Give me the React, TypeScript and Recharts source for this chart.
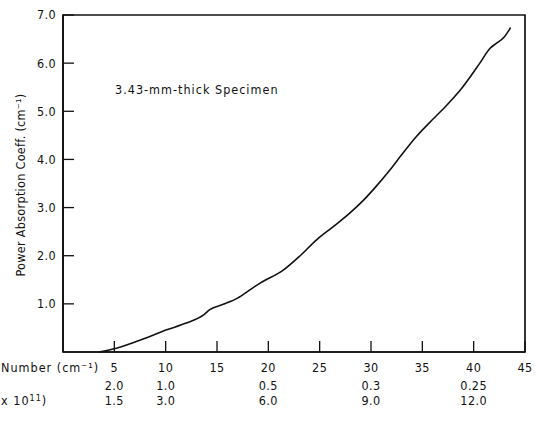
import { Label, Line, LineChart, ReferenceArea, XAxis, YAxis } from 'recharts'

// wave number (cm^-1) vs power absorption coefficient (cm^-1)
const WAVE_NUMBER = [3.5, 5.2, 7.8, 10.1, 12, 13.7, 14.3, 15.6, 17, 18.2, 19.2, 21.45, 23, 24.7, 26.3, 27.9, 29.3, 30.5, 31.8, 33, 34.4, 36.1, 37.4, 38.7, 40.6, 41.6, 42.2, 43.0, 43.6]
const ABSORPTION = [0, 0.08, 0.27, 0.46, 0.6, 0.77, 0.88, 0.99, 1.12, 1.29, 1.43, 1.7, 1.98, 2.33, 2.6, 2.88, 3.16, 3.44, 3.77, 4.1, 4.47, 4.85, 5.13, 5.44, 6.0, 6.31, 6.41, 6.55, 6.74]

const X_TICKS = [5, 10, 15, 20, 25, 30, 35, 40, 45]
const Y_TICKS = [1, 2, 3, 4, 5, 6, 7]

// secondary scales printed under some wave number ticks
const SUB_TICKS = [5, 10, 20, 30, 40]
const WAVELENGTH_LABELS = ['2.0', '1.0', '0.5', '0.3', '0.25']
const FREQUENCY_LABELS = ['1.5', '3.0', '6.0', '9.0', '12.0']

const data = WAVE_NUMBER.map((x, i) => ({ x, y: ABSORPTION[i] }))

const FONT = "'DejaVu Sans Condensed', 'DejaVu Sans', sans-serif"
const INK = '#111'
const SPACING = 1

function XTick(props: { x?: number; y?: number; payload?: { value: number } }) {
  const { x = 0, y = 0, payload } = props
  if (!payload) return null
  const i = SUB_TICKS.indexOf(payload.value)
  return (
    <g fontFamily={FONT} fontSize={12.5} fill={INK} letterSpacing={0.4}>
      <text x={x} y={y + 20} textAnchor="middle">{payload.value}</text>
      {i >= 0 ? (
        <>
          <text x={x} y={y + 38} textAnchor="middle">{WAVELENGTH_LABELS[i]}</text>
          <text x={x} y={y + 53} textAnchor="middle">{FREQUENCY_LABELS[i]}</text>
        </>
      ) : null}
    </g>
  )
}

// left part of the axis titles is cut off in the original scan
function XTitle(props: { viewBox?: { x: number; y: number } }) {
  const y = props.viewBox?.y ?? 352
  return (
    <g fontFamily={FONT} fontSize={12.5} fill={INK} letterSpacing={SPACING}>
      <text x={1} y={y + 20}>Number (cm⁻¹)</text>
      <text x={1} y={y + 53}>
        x 10<tspan dy={-4} fontSize={9}>11</tspan><tspan dy={4}>)</tspan>
      </text>
    </g>
  )
}

function YTitle() {
  return (
    <text
      x={25}
      y={185}
      transform="rotate(-90 25 185)"
      textAnchor="middle"
      fontFamily={FONT}
      fontSize={12.5}
      letterSpacing={0.3}
      fill={INK}
    >
      Power Absorption Coeff. (cm⁻¹)
    </text>
  )
}

function Note(props: { viewBox?: { x: number; y: number } }) {
  const x = props.viewBox?.x ?? 63
  const y = props.viewBox?.y ?? 15
  return (
    <text x={x + 52} y={y + 79} fontFamily={FONT} fontSize={12.5} letterSpacing={SPACING} fill={INK}>
      3.43-mm-thick Specimen
    </text>
  )
}

export default function App() {
  return (
    <div style={{ position: 'absolute', left: 0, top: 0, width: 545, height: 421 }}>
      <LineChart
        width={545}
        height={421}
        data={data}
        margin={{ top: 15, right: 20, bottom: 0, left: 0 }}
        style={{ overflow: 'visible' }}
      >
        <XAxis
          dataKey="x"
          type="number"
          domain={[0, 45]}
          ticks={X_TICKS}
          allowDataOverflow
          height={69}
          tickSize={-11}
          tickMargin={11}
          tick={<XTick />}
          axisLine={{ stroke: INK, strokeWidth: 1.7 }}
          tickLine={{ stroke: INK, strokeWidth: 1.3 }}
        >
          <Label content={<XTitle />} />
        </XAxis>
        <YAxis
          type="number"
          domain={[0, 7]}
          ticks={Y_TICKS}
          width={63}
          tickSize={-11}
          tickMargin={18}
          tickFormatter={(v: number) => v.toFixed(1)}
          tick={{ fontFamily: FONT, fontSize: 12.5, fill: INK, letterSpacing: 0.4 }}
          axisLine={{ stroke: INK, strokeWidth: 1.7 }}
          tickLine={{ stroke: INK, strokeWidth: 1.3 }}
        >
          <Label content={<YTitle />} />
        </YAxis>
        <ReferenceArea x1={0} x2={45} y1={0} y2={7} fill="none" stroke={INK} strokeWidth={1.7} ifOverflow="visible">
          <Label content={<Note />} />
        </ReferenceArea>
        <Line
          dataKey="y"
          type="monotone"
          stroke={INK}
          strokeWidth={1.6}
          dot={false}
          isAnimationActive={false}
        />
      </LineChart>
    </div>
  )
}
